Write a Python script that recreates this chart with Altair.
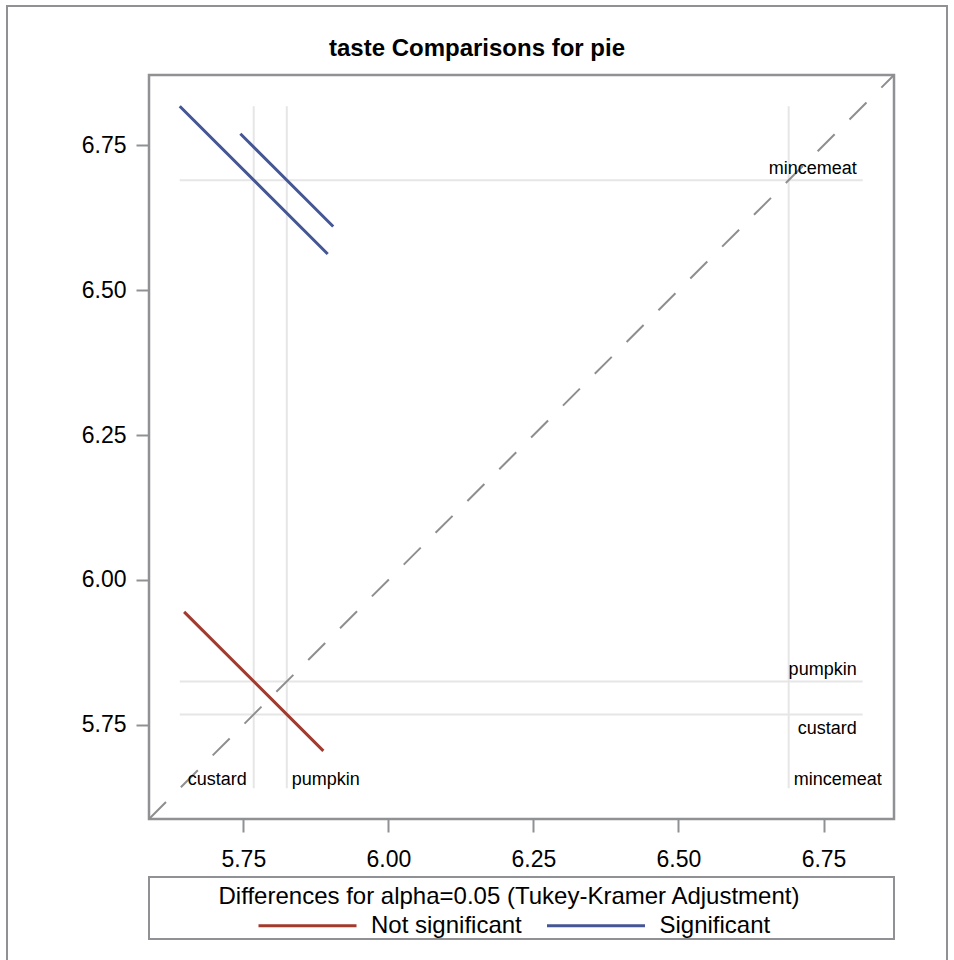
import altair as alt
import pandas as pd

# Group means of taste for each pie
categories = ["custard", "mincemeat", "pumpkin"]
means = [5.768, 6.690, 5.825]

# Pairwise comparisons: level on x, level on y, half-width of the adjusted
# confidence interval for the difference, and the verdict
pair_x = ["custard", "pumpkin", "custard"]
pair_y = ["mincemeat", "mincemeat", "pumpkin"]
ci_halfwidth = [0.255, 0.160, 0.240]
verdict = ["Significant", "Significant", "Not significant"]

axis_ticks = [5.75, 6.00, 6.25, 6.50, 6.75]
axis_domain = [5.5875, 6.8715]

legend_levels = ["Not significant", "Significant"]
legend_colors = ["#A23A2E", "#445694"]
legend_title = "Differences for alpha=0.05 (Tukey-Kramer Adjustment)"
chart_title = "taste Comparisons for pie"

FONT = "Liberation Sans"
FRAME = "#8f9194"
W, H = 745, 744

mean_of = dict(zip(categories, means))

# diffogram segments: slope -1 through (mean_x, mean_y)
seg = pd.DataFrame({"a": pair_x, "b": pair_y, "hw": ci_halfwidth, "Significance": verdict})
seg["mx"] = seg["a"].map(mean_of)
seg["my"] = seg["b"].map(mean_of)
seg["x1"] = seg["mx"] - seg["hw"] / 2
seg["x2"] = seg["mx"] + seg["hw"] / 2
seg["y1"] = seg["my"] + seg["hw"] / 2
seg["y2"] = seg["my"] - seg["hw"] / 2

lo = float(min(seg[["x1", "x2", "y1", "y2"]].min()))
hi = float(max(seg[["x1", "x2", "y1", "y2"]].max()))

refs = pd.DataFrame({"level": categories, "m": means, "lo": lo, "hi": hi})
diag = pd.DataFrame({"d0": [axis_domain[0]], "d1": [axis_domain[1]]})

scale = alt.Scale(domain=axis_domain, nice=False, zero=False)
x_axis = alt.Axis(values=axis_ticks, format=".2f", title=None)
y_axis = alt.Axis(values=axis_ticks, format=".2f", title=None)


def X(field):
    return alt.X(field, type="quantitative", scale=scale, axis=x_axis)


def Y(field):
    return alt.Y(field, type="quantitative", scale=scale, axis=y_axis)


base_ref = alt.Chart(refs)

vrefs = base_ref.mark_rule(color="#e6e6e6", strokeWidth=2).encode(
    x=X("m"), y=Y("lo"), y2="hi"
)
hrefs = base_ref.mark_rule(color="#e6e6e6", strokeWidth=2).encode(
    y=Y("m"), x=X("lo"), x2="hi"
)

diagonal = alt.Chart(diag).mark_rule(
    color="#8e8e8e", strokeWidth=2, strokeDash=[24, 21]
).encode(x=X("d0"), y=Y("d0"), x2="d1", y2="d1")

lines = alt.Chart(seg).mark_rule(strokeWidth=3).encode(
    x=X("x1"), y=Y("y1"), x2="x2", y2="y2",
    color=alt.Color(
        "Significance:N",
        scale=alt.Scale(domain=legend_levels, range=legend_colors),
        legend=alt.Legend(
            title=None,
            orient="none",
            direction="horizontal",
            legendX=108,
            legendY=800,
            symbolType="stroke",
            symbolSize=9604,
            symbolStrokeWidth=3,
            labelFont=FONT,
            labelFontSize=24,
            labelColor="black",
            labelOffset=13,
            columnPadding=18.5,
            padding=0,
        ),
    ),
)

txt = dict(font=FONT, fontSize=18, color="black")

# labels along the bottom ends of the vertical reference lines
bottom_left = base_ref.transform_filter(alt.FieldOneOfPredicate(field="level", oneOf=["custard"])).mark_text(
    align="right", baseline="alphabetic", dx=-7, dy=-3, **txt
).encode(x=X("m"), y=Y("lo"), text="level:N")
bottom_right = base_ref.transform_filter(alt.FieldOneOfPredicate(field="level", oneOf=["pumpkin", "mincemeat"])).mark_text(
    align="left", baseline="alphabetic", dx=5, dy=-3, **txt
).encode(x=X("m"), y=Y("lo"), text="level:N")

# labels along the right ends of the horizontal reference lines
side_above = base_ref.transform_filter(alt.FieldOneOfPredicate(field="level", oneOf=["pumpkin", "mincemeat"])).mark_text(
    align="right", baseline="alphabetic", dx=-6, dy=-6, **txt
).encode(x=X("hi"), y=Y("m"), text="level:N")
side_below = base_ref.transform_filter(alt.FieldOneOfPredicate(field="level", oneOf=["custard"])).mark_text(
    align="right", baseline="top", dx=-6, dy=6, **txt
).encode(x=X("hi"), y=Y("m"), text="level:N")

one = pd.DataFrame({"t": [legend_title], "h": [chart_title]})
legend_box = alt.Chart(one).mark_rect(
    fillOpacity=0, stroke=FRAME, strokeWidth=2
).encode(x=alt.value(0), x2=alt.value(W), y=alt.value(802), y2=alt.value(864))
legend_head = alt.Chart(one).mark_text(
    font=FONT, fontSize=24, color="black", align="center", baseline="alphabetic"
).encode(x=alt.value(360), y=alt.value(828.5), text="t:N")

# graph title, centred on the whole graph area
heading = alt.Chart(one).mark_text(
    font=FONT, fontSize=24, fontWeight="bold", color="black",
    align="center", baseline="alphabetic"
).encode(x=alt.value(328), y=alt.value(-19), text="h:N")

outer_box = alt.Chart(one).mark_rect(
    fillOpacity=0, stroke=FRAME, strokeWidth=2
).encode(x=alt.value(-142), x2=alt.value(798), y=alt.value(-69), y2=alt.value(900))

chart = alt.layer(
    outer_box, vrefs, hrefs, diagonal, lines,
    bottom_left, bottom_right, side_above, side_below,
    legend_box, legend_head, heading,
).properties(
    width=W,
    height=H,
    autosize=alt.AutoSizeParams(type="none"),
    padding={"left": 149, "top": 75, "right": 954 - 149 - W, "bottom": 960 - 75 - H},
).configure_view(
    stroke=FRAME, strokeWidth=2.5
).configure_axis(
    labelFont=FONT, labelFontSize=23, labelColor="black",
    tickColor=FRAME, tickWidth=2, tickSize=13, domain=False, grid=False,
    labelPadding=10,
).configure_axisX(labelPadding=16)

chart.save("out.html", embed_options={"renderer": "svg", "actions": False})
